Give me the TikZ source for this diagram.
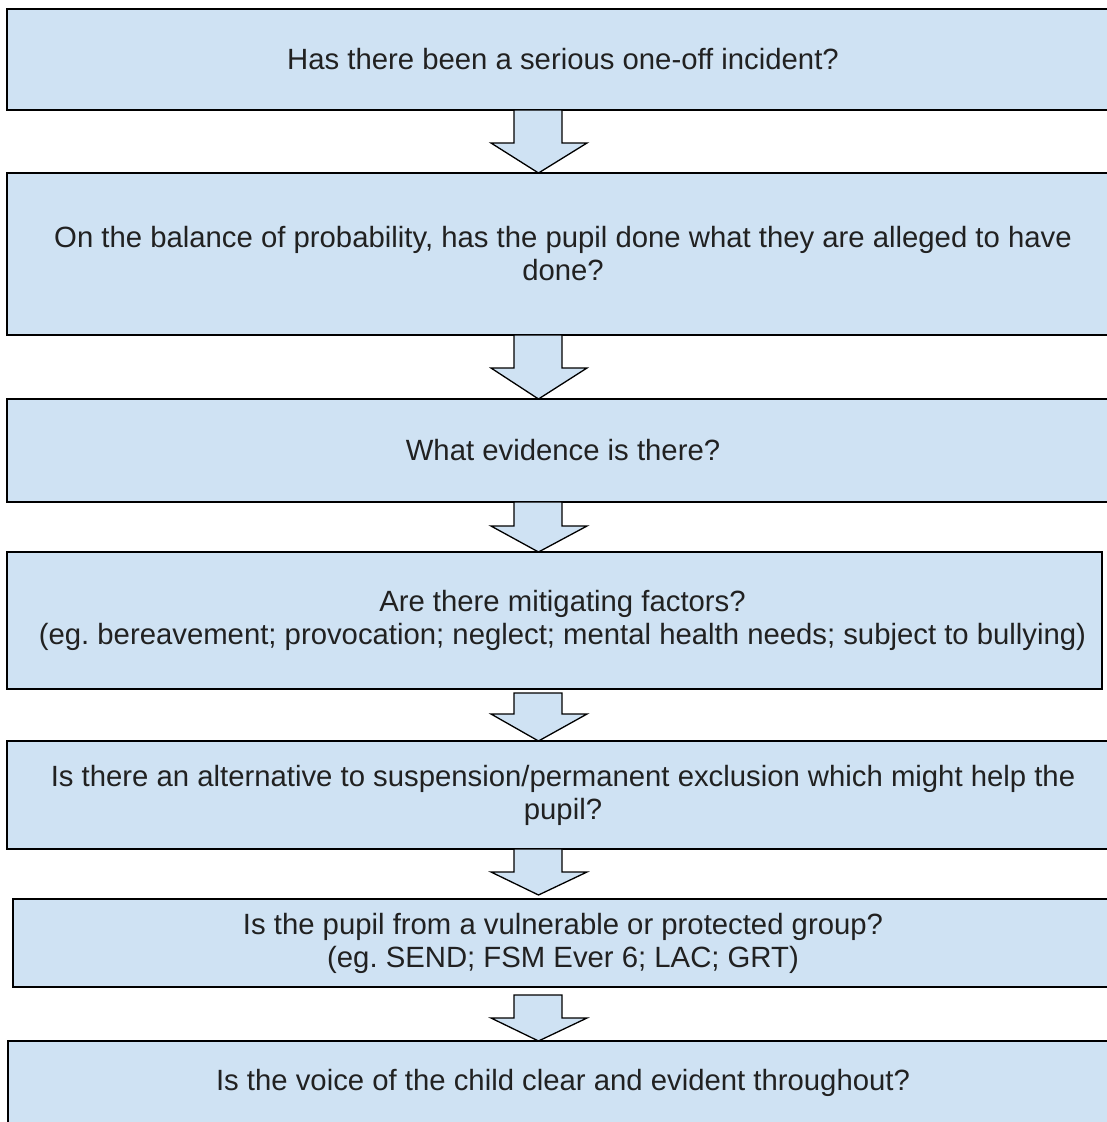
\documentclass[tikz,border=0pt]{standalone}
\usepackage{fontspec}
\setmainfont{Liberation Sans}
\usetikzlibrary{calc}
\definecolor{boxblue}{HTML}{CFE2F3}
\definecolor{txt}{HTML}{212121}
\tikzset{
  box/.style={draw=black, fill=boxblue, line width=2pt, inner sep=0pt, outer sep=0pt,
    anchor=north west, align=center, text=txt, font=\fontsize{29.3}{33}\selectfont\frenchspacing},
  flowarrow/.style={draw=black, fill=boxblue, line width=1.3pt, line join=miter},
}
% #1 upper node, #2 lower node, #3 gap below upper, #4 head length, #5 gap above lower
\newcommand\boxarrow[5]{%
  \path[flowarrow] let \p1=(#1.south), \p2=(#2.north) in
    (514pt,{\y1-#3}) -- (514pt,{\y2+#5+#4}) -- (491pt,{\y2+#5+#4}) -- (538.5pt,{\y2+#5})
    -- (587pt,{\y2+#5+#4}) -- (562pt,{\y2+#5+#4}) -- (562pt,{\y1-#3}) -- cycle;}
\frenchspacing
\begin{document}
\begin{tikzpicture}[x=1pt,y=-1pt]
\useasboundingbox (0,0) rectangle (1107,1122);
\clip (0,0) rectangle (1107,1122);
\fill[white] (0,0) rectangle (1107,1122);

\node[box, minimum width=1112pt, minimum height=101pt] (b1) at (7,9)
  {Has there been a serious one-off incident?};
\node[box, minimum width=1112pt, minimum height=162pt] (b2) at (7,173)
  {On the balance of probability, has the pupil done what they are alleged to have\\done?};
\node[box, minimum width=1112pt, minimum height=103pt] (b3) at (7,399)
  {What evidence is there?};
\node[box, minimum width=1095pt, minimum height=137pt] (b4) at (7,552)
  {\hspace*{16pt}Are there mitigating factors?\\\hspace*{16pt}(eg.\ bereavement; provocation; neglect; mental health needs; subject to bullying)};
\node[box, minimum width=1112pt, minimum height=108pt] (b5) at (7,741)
  {Is there an alternative to suspension/permanent exclusion which might help the\\pupil?};
\node[box, minimum width=1100pt, minimum height=88pt] (b6) at (13,899)
  {Is the pupil from a vulnerable or protected group?\\(eg.\ SEND; FSM Ever 6; LAC; GRT)};
\node[box, minimum width=1110pt, minimum height=83pt] (b7) at (8,1041)
  {Is the voice of the child clear and evident throughout?};

\boxarrow{b1}{b2}{0pt}{30pt}{0pt}
\boxarrow{b2}{b3}{0pt}{31pt}{0pt}
\boxarrow{b3}{b4}{0pt}{26pt}{0pt}
\boxarrow{b4}{b5}{4pt}{27pt}{0pt}
\boxarrow{b5}{b6}{0pt}{23pt}{4pt}
\boxarrow{b6}{b7}{8pt}{23pt}{0pt}
\end{tikzpicture}
\end{document}
